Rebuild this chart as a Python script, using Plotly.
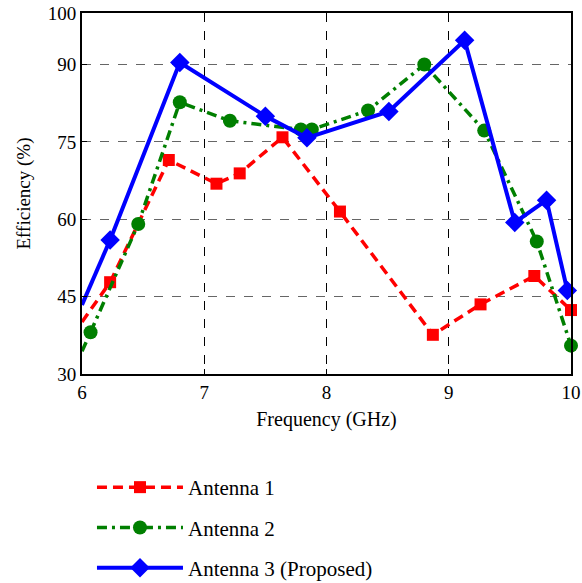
import plotly.graph_objects as go

# Antenna 1 (red, squares)
a1_lead_x = [6.0]
a1_lead_y = [40.1]
a1_x = [6.23, 6.71, 7.10, 7.29, 7.64, 8.11, 8.87, 9.26, 9.70, 10.0]
a1_y = [47.8, 71.5, 66.9, 68.9, 75.9, 61.5, 37.6, 43.5, 49.0, 42.4]

# Antenna 2 (green, circles)
a2_lead_x = [6.0]
a2_lead_y = [34.4]
a2_x = [6.07, 6.46, 6.80, 7.21, 7.79, 7.88, 8.34, 8.80, 9.29, 9.72, 10.0]
a2_y = [38.1, 59.1, 82.7, 79.1, 77.4, 77.4, 81.1, 90.0, 77.2, 55.7, 35.5]

# Antenna 3 (blue, diamonds)
a3_lead_x = [6.0]
a3_lead_y = [43.4]
a3_x = [6.23, 6.80, 7.50, 7.84, 8.51, 9.13, 9.54, 9.80, 9.97]
a3_y = [56.0, 90.4, 80.0, 75.8, 80.9, 94.7, 59.4, 63.7, 46.2]

x_ticks = [6, 7, 8, 9, 10]
y_ticks = [30, 45, 60, 75, 90, 100]

FONT = "Liberation Serif, Times New Roman, serif"

series = [
    ("Antenna 1", a1_lead_x, a1_lead_y, a1_x, a1_y, "#ff0000", "10px,6px", "square", 12, 3.5),
    ("Antenna 2", a2_lead_x, a2_lead_y, a2_x, a2_y, "#007f00", "10px,5px,3px,5px", "circle", 14, 3.5),
    ("Antenna 3 (Proposed)", a3_lead_x, a3_lead_y, a3_x, a3_y, "#0000ff", "solid", "diamond", 15, 4),
]

fig = go.Figure()
for i, (name, lx, ly, x, y, color, dash, sym, msize, lw) in enumerate(series):
    fig.add_trace(go.Scatter(
        x=lx + x[:1], y=ly + y[:1], mode="lines",
        line=dict(color=color, width=lw, dash=dash),
        showlegend=False, hoverinfo="skip",
    ))
    fig.add_trace(go.Scatter(
        x=x, y=y, mode="lines+markers", name=name,
        line=dict(color=color, width=lw, dash=dash),
        marker=dict(symbol=sym, size=msize, color=color, line=dict(width=0)),
        cliponaxis=False, legendgroup=f"g{i}",
    ))

fig.update_layout(
    width=582, height=583,
    margin=dict(l=82, r=11, t=13, b=209, autoexpand=False),
    paper_bgcolor="white", plot_bgcolor="white",
    font=dict(family=FONT, size=19, color="black"),
    showlegend=True,
    legend=dict(
        x=0.0204, y=-0.2576, xanchor="left", yanchor="top",
        font=dict(family=FONT, size=21, color="black"),
        bgcolor="rgba(0,0,0,0)", itemwidth=86, tracegroupgap=10,
    ),
    xaxis=dict(
        range=[6, 10], tickvals=x_ticks, ticktext=[str(v) for v in x_ticks],
        showline=True, linecolor="black", linewidth=2, mirror=True,
        ticks="inside", ticklen=5, tickcolor="black",
        showgrid=True, gridcolor="black", griddash="dash", gridwidth=1,
        zeroline=False,
        title=dict(text="Frequency (GHz)", font=dict(size=20), standoff=10),
        tickfont=dict(size=19),
    ),
    yaxis=dict(
        range=[30, 100], tickvals=y_ticks, ticktext=[str(v) for v in y_ticks],
        showline=True, linecolor="black", linewidth=2, mirror=True,
        ticks="inside", ticklen=5, tickcolor="black",
        showgrid=True, gridcolor="#666666", griddash="dash", gridwidth=1.3,
        zeroline=False,
        title=dict(text="Efficiency (%)", font=dict(size=19), standoff=12),
        tickfont=dict(size=19),
    ),
)

fig.write_html("out.html", config={"displayModeBar": False},
               post_script="document.body.style.margin='0';")
